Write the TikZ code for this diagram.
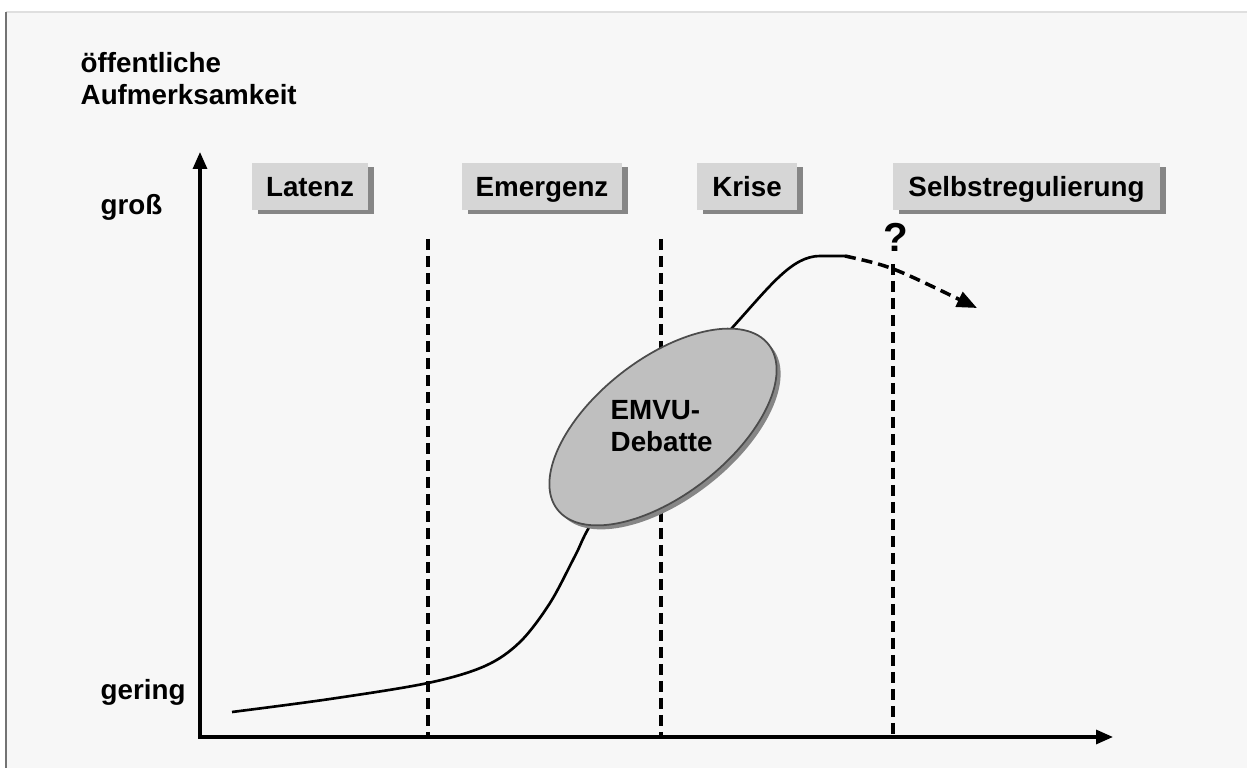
\documentclass[tikz,border=0pt]{standalone}
\usepackage{fontspec}
\setmainfont{Liberation Sans}
\usetikzlibrary{arrows.meta,shadows}

\tikzset{
  phase/.style={fill=gray!32, minimum height=0.47cm, inner sep=0pt,
    text height=0.2cm, text depth=0cm,
    font=\bfseries\fontsize{7.9}{9.4}\selectfont,
    drop shadow={shadow xshift=0.06cm, shadow yshift=-0.04cm, fill=gray!95, opacity=1}},
  achse/.style={{Triangle[length=0.17cm,width=0.14cm]}-{Triangle[length=0.17cm,width=0.14cm]}, line width=0.9pt},
  grenze/.style={dash pattern=on 0.11cm off 0.06cm, line width=1pt},
  beschriftung/.style={font=\bfseries\fontsize{7.9}{9.3}\selectfont, inner sep=0pt, align=left}
}

\begin{document}
\begin{tikzpicture}[scale=1]  %Diagramm
        %Rahmen und Hintergrund
    \useasboundingbox (0,0) rectangle (12.47,7.68);
    \fill[white] (0,0) rectangle (12.47,7.68);
    \fill[gray!6] (0.06,0) rectangle (12.47,7.56);
    \draw[gray!25, line width=0.6pt] (0.06,7.56) -- (12.47,7.56);
    \draw[black!55, line width=0.8pt] (0.06,0) -- (0.06,7.56);
        %Achsen
    \coordinate (O) at (2.00,0.31);
    \coordinate (Yende) at (2.00,6.16);
    \coordinate (Xende) at (11.13,0.31);
    \draw[achse] (Yende) -- (O) -- (Xende);
    \node[beschriftung, anchor=base west] (titel) at (0.80,6.63) {öffentliche\\Aufmerksamkeit};
    \node[beschriftung, anchor=base west] (gross) at (1.00,5.53) {groß};
    \node[beschriftung, anchor=base west] (gering) at (1.00,0.68) {gering};
        %Phasengrenzen
    \coordinate (G1o) at (4.28,5.29);
    \coordinate (G1u) at (4.28,0.31);
    \coordinate (G2o) at (6.61,5.29);
    \coordinate (G2u) at (6.61,0.31);
    \coordinate (G3o) at (8.93,5.04);
    \coordinate (G3u) at (8.93,0.31);
    \draw[grenze] (G1o) -- (G1u);
    \draw[grenze] (G2o) -- (G2u);
    \draw[grenze] (G3o) -- (G3u);
        %Phasen
    \node[phase, minimum width=1.16cm] (latenz) at (3.10,5.815) {Latenz};
    \node[phase, minimum width=1.60cm] (emergenz) at (5.42,5.815) {Emergenz};
    \node[phase, minimum width=1.00cm] (krise) at (7.47,5.815) {Krise};
    \node[phase, minimum width=2.67cm] (selbst) at (10.265,5.815) {Selbstregulierung};
        %Verlauf
    \coordinate (Gipfel) at (8.45,5.12);
    \coordinate (Trend) at (9.77,4.60);
    \draw[line width=0.75pt] plot[smooth, tension=0.55] coordinates {(2.32,0.56) (3.30,0.69) (4.28,0.85) (4.85,1.02) (5.20,1.26) (5.50,1.65) (5.75,2.12) (5.95,2.50) (6.60,3.40)};
    \draw[line width=0.75pt] (6.60,3.40) -- (7.32,4.40)
        .. controls (7.70,4.82) and (7.92,5.12) .. (8.20,5.12) -- (Gipfel);
    \draw[grenze, -{Triangle[length=0.2cm,width=0.16cm]}] (Gipfel) .. controls (8.9,5.02) .. (Trend);
    \node[font=\bfseries\fontsize{11.5}{12}\selectfont, inner sep=0pt] (frage) at (8.96,5.31) {?};
        %EMVU-Debatte
    \fill[gray!95, rotate around={38:(6.67,3.37)}] (6.67,3.37) ellipse (1.34 and 0.68);
    \draw[black!70, fill=gray!50, line width=0.5pt, rotate around={38:(6.63,3.41)}] (6.63,3.41) ellipse (1.34 and 0.68);
    \node[beschriftung, anchor=base west] (debatte) at (6.10,3.16) {EMVU-\\Debatte};
\end{tikzpicture}
\end{document}
